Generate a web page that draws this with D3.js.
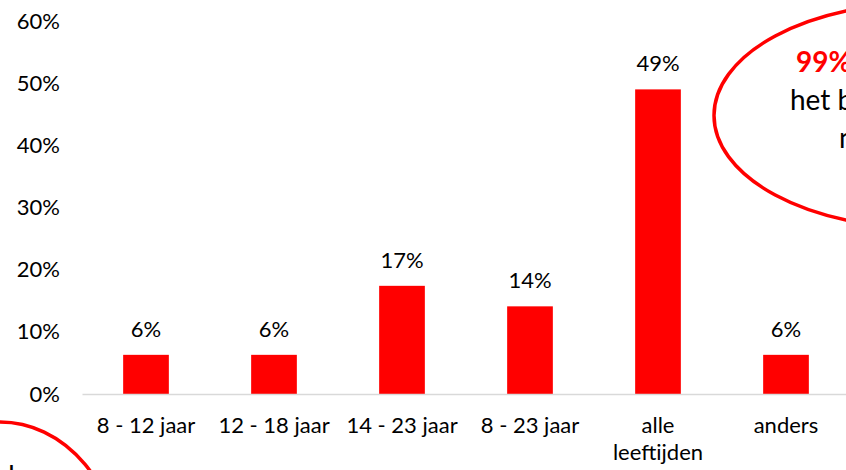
<!DOCTYPE html>
<html>
<head>
<meta charset="utf-8">
<script src="https://cdn.jsdelivr.net/npm/d3@7"></script>
<style>
  html, body { margin: 0; padding: 0; background: #fff; overflow: hidden; }
  svg { display: block; font-family: Lato, "Open Sans", sans-serif; }
</style>
</head>
<body>
<svg id="chart" width="846" height="470"></svg>
<script>
// ---- data ----
const categories = ["8 - 12 jaar", "12 - 18 jaar", "14 - 23 jaar", "8 - 23 jaar", "alle leeftijden", "anders"];
const values = [6.3, 6.3, 17.4, 14.1, 49.0, 6.3];
const valueLabels = ["6%", "6%", "17%", "14%", "49%", "6%"];
const yTicks = [0, 10, 20, 30, 40, 50, 60];
const calloutTop = ["99%", "het b", "n"];
const calloutBottom = ["d"];

// ---- layout ----
const W = 846, H = 470;
const plot = { left: 82, right: 850, top: 21, bottom: 394 };
const RED = "#ff0000";

const svg = d3.select("#chart");

const x = d3.scaleBand()
  .domain(categories)
  .range([plot.left, plot.right])
  .paddingInner(0.643)
  .paddingOuter(0.3215);

const y = d3.scaleLinear()
  .domain([0, 60])
  .range([plot.bottom, plot.top]);

// y axis (labels only)
const yAxis = svg.append("g")
  .attr("transform", `translate(${plot.left},0)`)
  .call(d3.axisLeft(y).tickValues(yTicks).tickFormat(d => d + "%").tickSize(0).tickPadding(22));
yAxis.select(".domain").remove();
yAxis.selectAll("text")
  .attr("font-family", "Lato, sans-serif")
  .attr("font-size", 22)
  .attr("fill", "#000");

// bars
svg.append("g").selectAll("rect")
  .data(values)
  .join("rect")
  .attr("x", (d, i) => x(categories[i]))
  .attr("width", x.bandwidth())
  .attr("y", d => y(d))
  .attr("height", d => y(0) - y(d))
  .attr("fill", RED);

// x axis
const xAxis = svg.append("g")
  .attr("transform", `translate(0,${plot.bottom})`)
  .call(d3.axisBottom(x).tickSize(0).tickSizeOuter(0).tickPadding(23));
xAxis.select(".domain")
  .attr("stroke", "#d9d9d9")
  .attr("stroke-width", 1.5);
xAxis.selectAll("text")
  .attr("font-family", "Lato, sans-serif")
  .attr("font-size", 22)
  .attr("fill", "#000")
  .each(function () {
    const t = d3.select(this);
    const txt = t.text();
    if (this.getComputedTextLength() > 115) {
      const words = txt.split(" ");
      const yy = t.attr("y"), dy = t.attr("dy");
      t.text(null);
      words.forEach((w, k) => {
        t.append("tspan")
          .attr("x", 0)
          .attr("y", yy)
          .attr("dy", k === 0 ? dy : (parseFloat(dy) + 1.25 * k) + "em")
          .text(w);
      });
    }
  });

// value labels
svg.append("g").selectAll("text")
  .data(values)
  .join("text")
  .attr("x", (d, i) => x(categories[i]) + x.bandwidth() / 2)
  .attr("y", d => y(d) - 18)
  .attr("text-anchor", "middle")
  .attr("font-family", "Lato, sans-serif")
  .attr("font-size", 22)
  .attr("fill", "#000")
  .text((d, i) => valueLabels[i]);

// callout ellipse top-right
svg.append("ellipse")
  .attr("cx", 923).attr("cy", 115.5)
  .attr("rx", 209).attr("ry", 112.5)
  .attr("fill", "none")
  .attr("stroke", RED)
  .attr("stroke-width", 3.5);

svg.append("text")
  .attr("x", 796).attr("y", 72)
  .attr("font-family", "Lato, sans-serif")
  .attr("font-size", 28)
  .attr("font-weight", "bold")
  .attr("fill", RED)
  .text(calloutTop[0]);
svg.append("text")
  .attr("x", 790).attr("y", 110)
  .attr("font-family", "Lato, sans-serif")
  .attr("font-size", 28)
  .attr("fill", "#000")
  .text(calloutTop[1]);
svg.append("text")
  .attr("x", 839).attr("y", 148)
  .attr("font-family", "Lato, sans-serif")
  .attr("font-size", 28)
  .attr("fill", "#000")
  .text(calloutTop[2]);

// callout ellipse bottom-left
svg.append("ellipse")
  .attr("cx", 0).attr("cy", 566)
  .attr("rx", 120).attr("ry", 144)
  .attr("fill", "none")
  .attr("stroke", RED)
  .attr("stroke-width", 3.5);
svg.append("text")
  .attr("x", -1).attr("y", 486)
  .attr("font-family", "Lato, sans-serif")
  .attr("font-size", 28)
  .attr("fill", "#000")
  .text(calloutBottom[0]);
</script>
</body>
</html>
